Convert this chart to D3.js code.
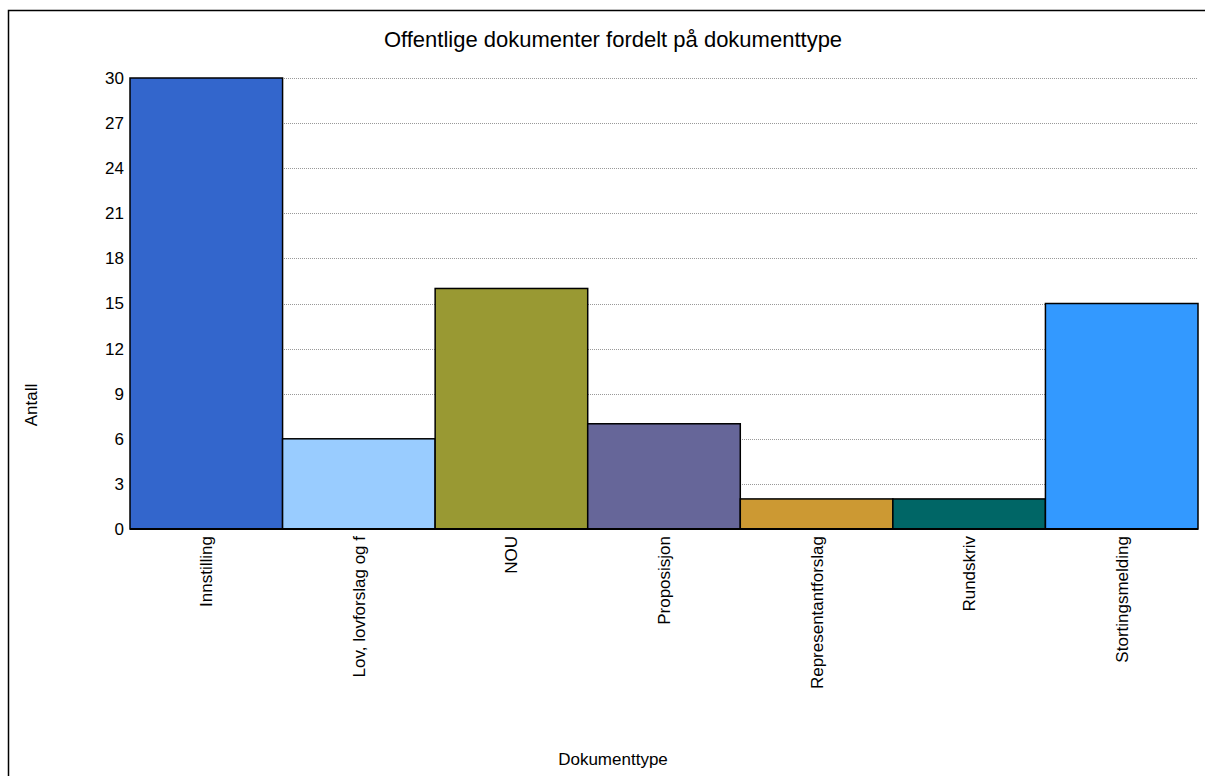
<!DOCTYPE html>
<html lang="no">
<head>
    <meta charset="UTF-8">
    <title>Offentlige dokumenter</title>
    <script src="https://cdn.jsdelivr.net/npm/d3@7"></script>
    <style>
        body { margin: 0; background: #fff; font-family: "Liberation Sans", Arial, sans-serif; }
    </style>
</head>
<body>
    <div id="chart"></div>

    <script>
        const categories = ["Innstilling", "Lov, lovforslag og f", "NOU", "Proposisjon",
            "Representantforslag", "Rundskriv", "Stortingsmelding"];
        const counts = [30, 6, 16, 7, 2, 2, 15];
        const barColors = ["#3366cc", "#99ccff", "#999933", "#666699", "#cc9933", "#006666", "#3399ff"];
        const yTicks = [0, 3, 6, 9, 12, 15, 18, 21, 24, 27, 30];

        const width = 1205;
        const height = 776;
        const marginLeft = 130;
        const marginRight = 7;
        const marginTop = 78;
        const plotBottom = 529;

        const svg = d3.select("#chart").append("svg")
            .attr("width", width)
            .attr("height", height);

        // frame (only left and top edges visible)
        svg.append("path")
            .attr("d", `M8.5,${height} V10.5 H${width + 5}`)
            .attr("fill", "none")
            .attr("stroke", "#000")
            .attr("stroke-width", 1.5);

        const x = d3.scaleBand()
            .domain(categories)
            .range([marginLeft, width - marginRight])
            .padding(0);

        const y = d3.scaleLinear()
            .domain([0, 30])
            .range([plotBottom, marginTop]);

        // dotted gridlines
        svg.append("g")
            .selectAll("line")
            .data(yTicks.filter(d => d > 0))
            .join("line")
            .attr("x1", marginLeft)
            .attr("x2", width - marginRight)
            .attr("y1", d => Math.round(y(d)) + 0.5)
            .attr("y2", d => Math.round(y(d)) + 0.5)
            .attr("stroke", "#999")
            .attr("stroke-width", 1)
            .attr("stroke-dasharray", "1,1");

        // bars
        svg.append("g")
            .selectAll("rect")
            .data(counts)
            .join("rect")
            .attr("x", (d, i) => x(categories[i]))
            .attr("y", d => y(d))
            .attr("width", x.bandwidth())
            .attr("height", d => plotBottom - y(d))
            .attr("fill", (d, i) => barColors[i])
            .attr("stroke", "#000")
            .attr("stroke-width", 1.5);

        // y axis
        svg.append("g")
            .attr("transform", `translate(${marginLeft},0)`)
            .call(d3.axisLeft(y).tickValues(yTicks).tickSize(0).tickPadding(6))
            .call(g => g.select(".domain").remove())
            .call(g => g.selectAll("text")
                .attr("font-size", 17)
                .attr("font-family", "Liberation Sans, Arial, sans-serif")
                .attr("fill", "#000"));

        // x axis line
        svg.append("line")
            .attr("x1", marginLeft)
            .attr("x2", width - marginRight)
            .attr("y1", plotBottom)
            .attr("y2", plotBottom)
            .attr("stroke", "#000")
            .attr("stroke-width", 2);

        // x category labels, rotated
        svg.append("g")
            .selectAll("text")
            .data(categories)
            .join("text")
            .attr("transform", d => `translate(${x(d) + x.bandwidth() / 2 + 6},${plotBottom + 7}) rotate(-90)`)
            .attr("text-anchor", "end")
            .attr("font-size", 17)
            .attr("fill", "#000")
            .text(d => d);

        svg.append("text")
            .attr("x", 613)
            .attr("y", 47)
            .attr("text-anchor", "middle")
            .attr("font-size", 22)
            .attr("fill", "#000")
            .text("Offentlige dokumenter fordelt på dokumenttype");

        svg.append("text")
            .attr("transform", "translate(37,405) rotate(-90)")
            .attr("text-anchor", "middle")
            .attr("font-size", 17)
            .attr("fill", "#000")
            .text("Antall");

        svg.append("text")
            .attr("x", 613)
            .attr("y", 765)
            .attr("text-anchor", "middle")
            .attr("font-size", 17)
            .attr("fill", "#000")
            .text("Dokumenttype");
    </script>
</body>
</html>
